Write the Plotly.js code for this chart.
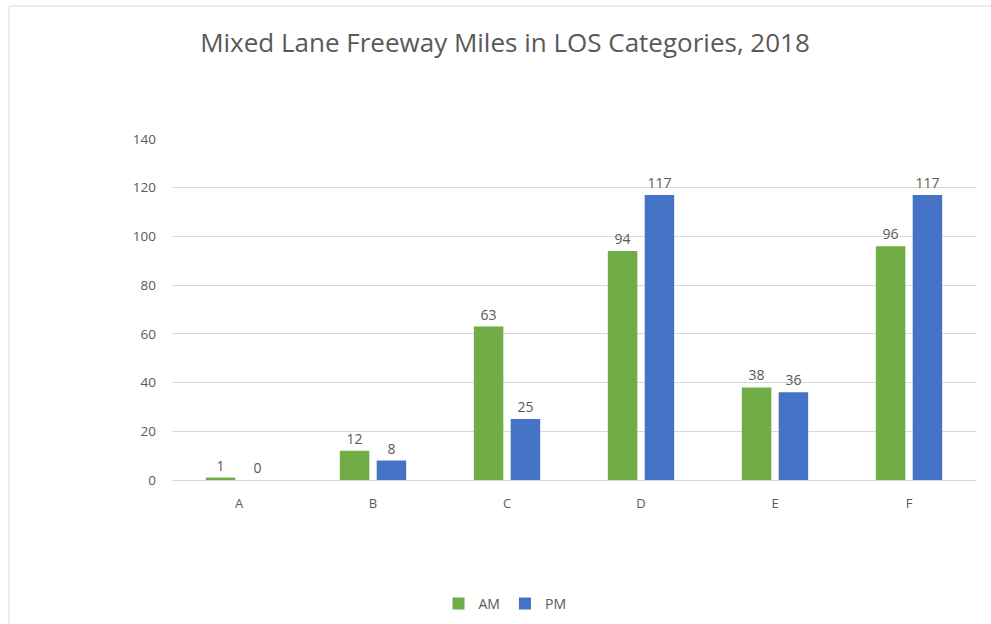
<!DOCTYPE html>
<html>
<head>
<meta charset="utf-8">
<script src="https://cdn.plot.ly/plotly-3.0.1.min.js"></script>
<style>html,body{margin:0;padding:0;background:#fff;}#chart{width:991px;height:624px;}</style>
</head>
<body>
<div id="chart"></div>
<script>
const categories = ["A", "B", "C", "D", "E", "F"];
const amValues = [1, 12, 63, 94, 38, 96];
const pmValues = [0, 8, 25, 117, 36, 117];
const yTicks = [0, 20, 40, 60, 80, 100, 120, 140];
const seriesNames = ["AM", "PM"];

const font = "'Open Sans', 'Liberation Sans', sans-serif";
const grey = "#595959";

const traces = [
  {
    type: "bar", name: seriesNames[0], x: categories, y: amValues,
    marker: {color: "#70AD47"},
    text: amValues.map(String), textposition: "outside", cliponaxis: false,
    textfont: {family: font, size: 14, color: grey}
  },
  {
    type: "bar", name: seriesNames[1], x: categories, y: pmValues,
    marker: {color: "#4472C4"},
    text: pmValues.map(String), textposition: "outside", cliponaxis: false,
    textfont: {family: font, size: 14, color: grey}
  }
];

const layout = {
  width: 991, height: 624,
  margin: {l: 172, r: 15, t: 139, b: 144, autoexpand: false},
  paper_bgcolor: "#ffffff", plot_bgcolor: "#ffffff",
  font: {family: font, color: grey},
  title: {
    text: "Mixed Lane Freeway Miles in LOS Categories, 2018",
    font: {family: font, size: 26, color: grey},
    x: 505 / 991, xref: "container", xanchor: "center",
    y: 1 - 43 / 624, yref: "container", yanchor: "middle"
  },
  barmode: "group", bargap: 0.45, bargroupgap: 0.2,
  showlegend: true,
  legend: {
    orientation: "h", x: 505 / 991, xanchor: "center", xref: "container",
    y: -(604 - 480) / 341, yanchor: "middle",
    font: {family: font, size: 14, color: grey},
    itemwidth: 30, traceorder: "normal"
  },
  xaxis: {
    type: "category", showgrid: false, zeroline: false,
    showline: false, ticks: "",
    tickfont: {family: font, size: 13, color: grey},
    ticklabelstandoff: 14
  },
  yaxis: {
    range: [0, 140], tickvals: yTicks, ticktext: yTicks.map(String),
    showgrid: true, gridcolor: "#D9D9D9", gridwidth: 1,
    zeroline: true, zerolinecolor: "#D9D9D9", zerolinewidth: 1,
    showline: false, ticks: "",
    tickfont: {family: font, size: 13.5, color: grey},
    ticklabelstandoff: 15
  },
  shapes: [
    {type: "rect", xref: "paper", yref: "paper",
     x0: (9 - 172) / 804, x1: (995 - 172) / 804,
     y0: -(630 - 480) / 341, y1: (480 - 6) / 341,
     line: {color: "#D9D9D9", width: 1}, fillcolor: "rgba(0,0,0,0)", layer: "below"}
  ]
};

Plotly.newPlot("chart", traces, layout, {staticPlot: true, displayModeBar: false});
</script>
</body>
</html>
